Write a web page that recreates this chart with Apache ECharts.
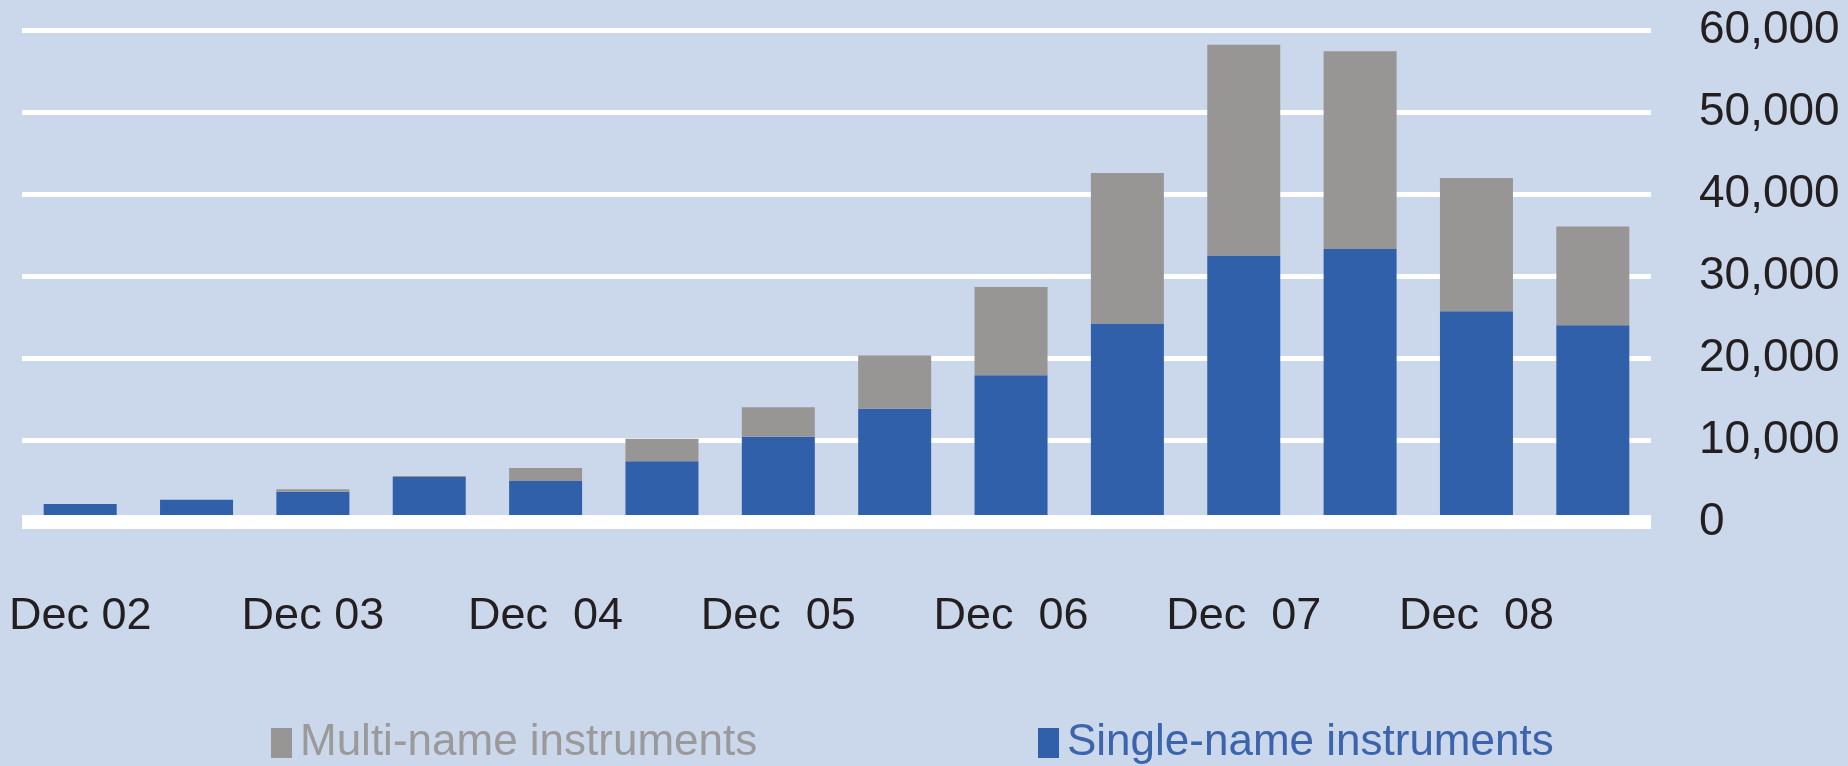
<!DOCTYPE html>
<html>
<head>
<meta charset="utf-8">
<script src="https://cdn.jsdelivr.net/npm/echarts@6/dist/echarts.min.js"></script>
<style>
  html, body { margin: 0; padding: 0; background: #cbd7ea; }
  #chart { width: 1848px; height: 766px; }
</style>
</head>
<body>
<div id="chart"></div>
<script>
  // half-yearly periods, only the December ones get a label
  var categories = ['Dec 02', 'Jun 03', 'Dec 03', 'Jun 04', 'Dec  04', 'Jun 05', 'Dec  05',
    'Jun 06', 'Dec  06', 'Jun 07', 'Dec  07', 'Jun 08', 'Dec  08', 'Jun 09']
  var singleName = [2200, 2700, 3700, 5500, 5000, 7400, 10400, 13800, 17900, 24200, 32500, 33300, 25700, 24000]
  var multiName = [0, 0, 300, 100, 1600, 2750, 3600, 6500, 10750, 18350, 25700, 24100, 16250, 12050]
  var yTicks = [0, 10000, 20000, 30000, 40000, 50000, 60000]

  var font = "'Liberation Sans', Arial, sans-serif"
  var blue = '#3160ab'
  var grey = '#979694'

  var myChart = echarts.init(document.getElementById('chart'))
  var option = {
    backgroundColor: '#cbd7ea',
    animation: false,
    grid: {
      left: 22,
      right: 197,
      top: 30,
      bottom: 244,
      outerBoundsMode: 'none'
    },
    legend: [
      {
        left: 266,
        top: 716,
        icon: 'rect',
        itemWidth: 21,
        itemHeight: 30,
        data: [{name: 'Multi-name instruments', textStyle: {color: '#9a9a9a'}}],
        textStyle: {fontFamily: font, fontSize: 44, padding: [0, 0, 0, 3]}
      },
      {
        left: 1033,
        top: 716,
        icon: 'rect',
        itemWidth: 21,
        itemHeight: 30,
        data: [{name: 'Single-name instruments', textStyle: {color: '#3b64ad'}}],
        textStyle: {fontFamily: font, fontSize: 44, padding: [0, 0, 0, 3]}
      }
    ],
    xAxis: {
      type: 'category',
      data: categories,
      z: 5,
      axisLine: {
        show: true,
        lineStyle: {color: '#ffffff', width: 14, cap: 'butt'}
      },
      axisTick: {show: false},
      axisLabel: {
        interval: 1,
        margin: 72,
        color: '#231f20',
        fontFamily: font,
        fontSize: 45
      },
      splitLine: {show: false}
    },
    yAxis: {
      type: 'value',
      position: 'right',
      min: yTicks[0],
      max: yTicks[yTicks.length - 1],
      interval: 10000,
      axisLine: {show: false},
      axisTick: {show: false},
      axisLabel: {
        margin: 48,
        color: '#231f20',
        fontFamily: font,
        fontSize: 46,
        formatter: function (v) {
          return v.toString().replace(/\B(?=(\d{3})+(?!\d))/g, ',')
        }
      },
      splitLine: {
        show: true,
        lineStyle: {color: '#ffffff', width: 5}
      }
    },
    series: [
      {
        name: 'Single-name instruments',
        type: 'bar',
        stack: 'total',
        barWidth: 73,
        itemStyle: {color: blue},
        data: singleName
      },
      {
        name: 'Multi-name instruments',
        type: 'bar',
        stack: 'total',
        barWidth: 73,
        itemStyle: {color: grey},
        data: multiName
      }
    ]
  }
  myChart.setOption(option)
</script>
</body>
</html>
